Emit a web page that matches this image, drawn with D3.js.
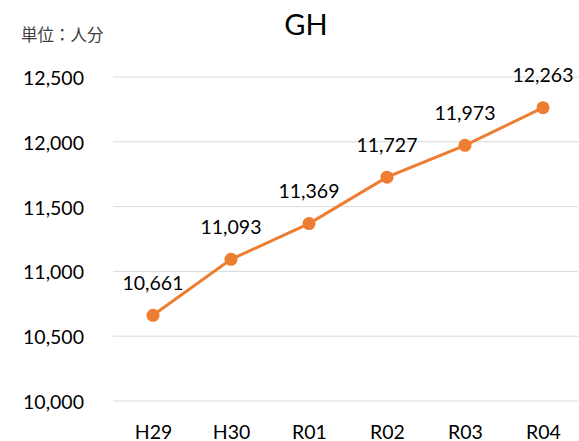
<!DOCTYPE html>
<html>
<head>
<meta charset="utf-8">
<script src="https://cdn.jsdelivr.net/npm/d3@7"></script>
<style>
  body { margin: 0; background: #fff; }
  svg { display: block; font-family: Lato, "Noto Sans CJK JP", sans-serif; }
</style>
</head>
<body>
<svg id="chart" width="579" height="441"></svg>
<script>
// values
const years = ["H29", "H30", "R01", "R02", "R03", "R04"]
const values = [10661, 11093, 11369, 11727, 11973, 12263]
const yTicks = [10000, 10500, 11000, 11500, 12000, 12500]

const svg = d3.select("#chart")
const orange = "#ED7D31"
const fs = 19.5

const x = d3.scalePoint()
    .domain(years)
    .range([114, 582])
    .padding(0.5)

const y = d3.scaleLinear()
    .domain([10000, 12500])
    .range([401, 77])

const fmt = d3.format(",")

// gridlines
svg.append("g")
  .selectAll("line")
  .data(yTicks)
  .join("line")
    .attr("x1", 113)
    .attr("x2", 578)
    .attr("y1", d => y(d))
    .attr("y2", d => y(d))
    .attr("stroke", "#d9d9d9")
    .attr("stroke-width", 1)

// y axis labels
const yAxis = svg.append("g")
    .attr("transform", "translate(84,0)")
    .call(d3.axisLeft(y).tickValues(yTicks).tickFormat(fmt).tickSize(0).tickPadding(0))
yAxis.select(".domain").remove()
yAxis.selectAll("text")
    .attr("font-size", fs)
    .attr("fill", "#000")
    .attr("dy", null)
    .attr("dominant-baseline", "central")
    .attr("font-family", "Lato, sans-serif")

// x axis labels
const xAxis = svg.append("g")
    .attr("transform", "translate(0,431)")
    .call(d3.axisBottom(x).tickSize(0).tickPadding(0))
xAxis.select(".domain").remove()
xAxis.selectAll("text")
    .attr("font-size", fs)
    .attr("fill", "#000")
    .attr("y", 0)
    .attr("dy", null)
    .attr("dominant-baseline", "central")
    .attr("font-family", "Lato, sans-serif")

const data = years.map((k, i) => ({k: k, v: values[i]}))

const line = d3.line()
    .x(d => x(d.k))
    .y(d => y(d.v))

svg.append("path")
    .datum(data)
    .attr("d", line)
    .attr("fill", "none")
    .attr("stroke", orange)
    .attr("stroke-width", 3)

svg.append("g")
  .selectAll("circle")
  .data(data)
  .join("circle")
    .attr("cx", d => x(d.k))
    .attr("cy", d => y(d.v))
    .attr("r", 6.5)
    .attr("fill", orange)

svg.append("g")
  .selectAll("text")
  .data(data)
  .join("text")
    .attr("x", d => x(d.k))
    .attr("y", d => y(d.v) - 33)
    .attr("text-anchor", "middle")
    .attr("dominant-baseline", "central")
    .attr("font-size", fs)
    .attr("fill", "#000")
    .text(d => fmt(d.v))

// title
svg.append("text")
    .attr("x", 306)
    .attr("y", 23)
    .attr("text-anchor", "middle")
    .attr("dominant-baseline", "central")
    .attr("font-size", 29)
    .attr("fill", "#000")
    .text("GH")

// unit
svg.append("text")
    .attr("x", 21)
    .attr("y", 35)
    .attr("dominant-baseline", "central")
    .attr("font-size", 16.5)
    .attr("fill", "#404040")
    .text("単位：人分")
</script>
</body>
</html>
